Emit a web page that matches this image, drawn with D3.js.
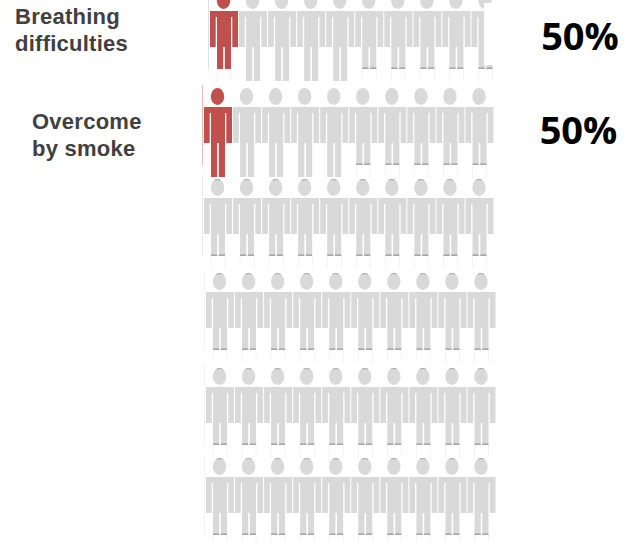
<!DOCTYPE html>
<html>
<head>
<meta charset="utf-8">
<script src="https://cdnjs.cloudflare.com/ajax/libs/d3/7.8.5/d3.min.js"></script>
<style>
html, body { margin: 0; padding: 0; background: #fff; }
.label { font-family: "Liberation Sans", Arial, sans-serif; font-size: 22px; letter-spacing: 0.25px; font-weight: bold; fill: #404040; }
.pct { font-family: "Open Sans", sans-serif; font-size: 38px; font-weight: bold; fill: #000; }
</style>
</head>
<body>
<script>
// values
var categories = ["Breathing difficulties", "Overcome by smoke"];
var percents = [50, 50];
var filledInRow = [1, 1, 0, 0, 0, 0];
var longLegsInRow = [5, 5, 0, 0, 0, 0];
var columns = d3.range(10);

var labelLines = [["Breathing", "difficulties"], ["Overcome", "by smoke"]];

var width = 635, height = 542;
var RED = "#c0504d", GRAY = "#d9d9d9", STRIP = "#a6a6a6", FAINT = "#f3f3f3";

// layout of the rows, the icon block is not quite regular
var rowX = [6, 0, 0, 2, 2, 2];
var rowTop = [-8, 88, 179, 273, 368, 458];
var edgeColor = ["#e0e0e0", "#eeb9b7", "#f0e6e6", "#f2f2f2", "#f2f2f2", "#f2f2f2"];

var SHORT_LEG = 77, LONG_LEG = 89;

var svg = d3.select("body").append("svg")
    .attr("width", width)
    .attr("height", height)
    .style("display", "block");

var x = d3.scaleLinear().domain([0, 9]).range([218, 479.5]);

var rows = svg.selectAll(".row")
    .data(rowTop)
    .enter().append("g")
    .attr("class", "row")
    .attr("transform", function (d, i) { return "translate(" + rowX[i] + "," + d + ")"; });

rows.each(function (top, r) {
    var row = d3.select(this);
    var isLong = function (c) { return c > 0 || r > 0 ? c < longLegsInRow[r] : false; };

    row.append("line")
        .attr("x1", x(0) - 15.5).attr("x2", x(0) - 15.5)
        .attr("y1", r === 0 ? 8 : -3).attr("y2", SHORT_LEG)
        .attr("stroke", edgeColor[r]);

    var person = row.selectAll(".person")
        .data(columns)
        .enter().append("g")
        .attr("class", "person")
        .attr("transform", function (c) { return "translate(" + x(c) + ",0)"; })
        .attr("fill", function (c) { return c < filledInRow[r] ? RED : GRAY; });

    person.append("ellipse").attr("cx", -0.5).attr("cy", 8.5).attr("rx", 6.7).attr("ry", 8.5);
    // dark rim on top of the heads in the lower rows
    if (r >= 2) {
        person.append("path")
            .attr("d", "M-3.5 1.2Q-0.5 -0.4 2.5 1.2")
            .attr("fill", "none")
            .attr("stroke", "#9a9a9a")
            .attr("stroke-width", 0.8);
    }
    // shoulders, arms and torso
    person.append("path").attr("d", "M-14 19H14V55H8.3V25H7V55H-7V25H-8.3V55H-14Z");
    // legs
    [-7, 0.8].forEach(function (legX) {
        person.append("rect")
            .attr("x", legX).attr("y", 55).attr("width", 6.2)
            .attr("height", function (c) { return (isLong(c) ? LONG_LEG : SHORT_LEG) - 55; });
        person.filter(function (c) { return !isLong(c) && c >= filledInRow[r]; })
            .append("rect")
            .attr("x", legX).attr("y", SHORT_LEG - 1.6).attr("width", 6.2).attr("height", 1.6)
            .attr("fill", STRIP);
    });
    // faint traces under the short legs
    [-7, 7].forEach(function (traceX) {
        person.filter(function (c) { return !isLong(c); })
            .append("line")
            .attr("x1", traceX).attr("x2", traceX)
            .attr("y1", SHORT_LEG).attr("y2", LONG_LEG + 1)
            .attr("stroke", FAINT);
    });
});

// last figure of the top row is partly covered
svg.append("rect")
    .attr("x", x(9) + rowX[0] - 1.5).attr("y", 3)
    .attr("width", 18).attr("height", 62)
    .attr("fill", "#fff");

var labelPos = [[15, 23.5], [32, 129]];
var pctPos = [[580, 50], [578.5, 144]];

categories.forEach(function (name, i) {
    var t = svg.append("text").attr("class", "label");
    labelLines[i].forEach(function (line, j) {
        t.append("tspan").attr("x", labelPos[i][0]).attr("y", labelPos[i][1] + j * 27).text(line);
    });
    svg.append("text").attr("class", "pct").attr("text-anchor", "middle")
        .attr("x", pctPos[i][0]).attr("y", pctPos[i][1])
        .text(percents[i] + "%");
});
</script>
</body>
</html>
